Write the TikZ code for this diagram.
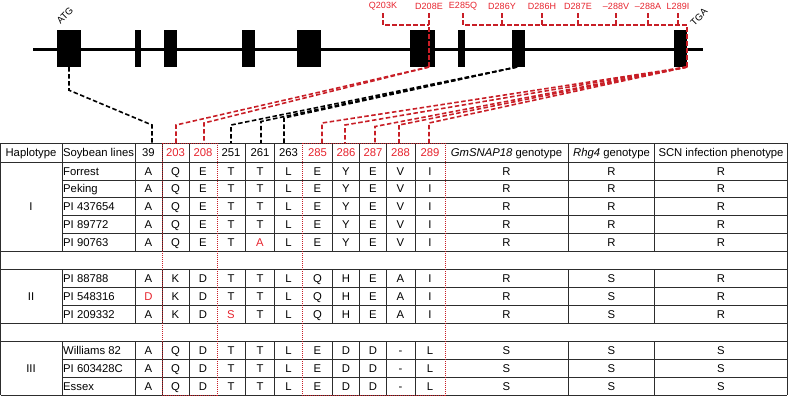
\documentclass[tikz,border=0pt]{standalone}
\usepackage{fontspec}
\setmainfont{Liberation Sans}
\usetikzlibrary{calc}
\definecolor{txtred}{RGB}{230,35,45}
\definecolor{lnred}{RGB}{200,30,38}
\definecolor{gridc}{RGB}{45,45,45}
\newcommand{\redt}[1]{\textcolor{txtred}{#1}}
\newcommand{\trow}[3]{%
  \pgfmathsetmacro{\ry}{162+17.923*(#1-1)+8.96}
  \node[cell, anchor=west] (n#1) at (63,\ry) {#2};
  \foreach \v [count=\c] in {#3} {
    \pgfmathsetmacro{\cx}{{148.5,175.5,203,231,260,288.5,317.5,346,373,400.5,430,506.5,611.5,721}[\c-1]}
    \node[cell] (d#1-\c) at (\cx,\ry) {\v};
  }%
}
\begin{document}
\begin{tikzpicture}[x=1pt,y=-1pt,
  cell/.style={inner sep=0pt, text height=8.1pt, text depth=0pt, font=\fontsize{11.3}{13}\selectfont},
  mut/.style={inner sep=0pt, text=txtred, font=\fontsize{9}{10}\selectfont},
  exon/.style={rectangle, fill=black, draw=none, inner sep=0pt, minimum height=37},
  bkdash/.style={draw=black, line width=1.6pt, dash pattern=on 4.5pt off 2.5pt},
  rddash/.style={draw=lnred, line width=1.6pt, dash pattern=on 4.5pt off 2.5pt},
  redbox/.style={draw=lnred, line width=0.8pt, dash pattern=on 1pt off 1pt},
  gridline/.style={draw=gridc, line width=0.8pt}
]
\useasboundingbox (0,0) rectangle (788,400);

% ---------- gene model ----------
\coordinate (g0) at (33,49);
\coordinate (g1) at (703,49);
\draw[line width=3pt] (g0) -- (g1);
\node[exon, minimum width=24] (e1) at (69,48.5) {};
\node[exon, minimum width=6.5] (e2) at (138,48.5) {};
\node[exon, minimum width=13] (e3) at (170.5,48.5) {};
\node[exon, minimum width=13] (e4) at (248.5,48.5) {};
\node[exon, minimum width=24] (e5) at (309,48.5) {};
\node[exon, minimum width=25] (e6) at (422.5,48.5) {};
\node[exon, minimum width=7] (e7) at (461.5,48.5) {};
\node[exon, minimum width=13] (e8) at (518.5,48.5) {};
\node[exon, minimum width=13] (e9) at (680.5,48.5) {};
\node[inner sep=0pt, rotate=45, font=\fontsize{9.5}{11}\selectfont] (atg) at (65,16) {ATG};
\node[inner sep=0pt, rotate=45, font=\fontsize{9.5}{11}\selectfont] (tga) at (699,17) {TGA};

% ---------- mutation labels ----------
\node[mut] (m1) at (383,6) {Q203K};
\node[mut] (m2) at (429,6) {D208E};
\node[mut] (m3) at (463,6) {E285Q};
\node[mut] (m4) at (502,6) {D286Y};
\node[mut] (m5) at (542,6) {D286H};
\node[mut] (m6) at (578,6) {D287E};
\node[mut] (m7) at (616,6) {–288V};
\node[mut] (m8) at (648,6) {–288A};
\node[mut] (m9) at (678,6) {L289I};
\coordinate (ytick) at (0,13);
\coordinate (ybar) at (0,25);
\coordinate (yex) at (0,67);
\coordinate (s6) at (429,67);
\coordinate (s8) at (517,67);
\coordinate (s9) at (687,67);
\draw[rddash] (m1 |- ytick) -- (m1 |- ybar) -- (m2 |- ybar);
\draw[rddash] (m2 |- ytick) -- (s6);
\draw[rddash] (m3 |- ytick) -- (m3 |- ybar) -- (s9 |- ybar) -- (s9);
\foreach \m in {m4,m5,m6,m7,m8,m9} {
  \draw[rddash] (\m |- ytick) -- (\m |- ybar);
}

% ---------- connectors ----------
\coordinate (k1) at (152,125);  \coordinate (t1) at (152,143);
\coordinate (k2) at (176,125);  \coordinate (t2) at (176,143);
\coordinate (k3) at (204,123);  \coordinate (t3) at (204,143);
\coordinate (k4) at (231,125);  \coordinate (t4) at (231,143);
\coordinate (k5) at (261,121.5);\coordinate (t5) at (261,143);
\coordinate (k6) at (284,118);  \coordinate (t6) at (284,143);
\coordinate (k7) at (322,123);  \coordinate (t7) at (322,143);
\coordinate (k8) at (345,125);  \coordinate (t8) at (345,143);
\coordinate (k9) at (375,126.5);\coordinate (t9) at (375,143);
\coordinate (k10) at (399,125); \coordinate (t10) at (399,143);
\coordinate (k11) at (429,123); \coordinate (t11) at (429,143);
\draw[bkdash] (e1.south) -- ++(0,23) -- (k1) -- (t1);
\draw[rddash] (s6) -- (k2) -- (t2);
\draw[rddash] (s6) -- (k3) -- (t3);
\foreach \i in {4,5,6} { \draw[bkdash] (s8) -- (k\i) -- (t\i); }
\foreach \i in {7,8,9,10,11} { \draw[rddash] (s9) -- (k\i) -- (t\i); }

% ---------- table grid ----------
\foreach \y in {143,162,251.62,269.54,323.31,341.23,395} {
  \draw[gridline] (0.5,\y) -- (787,\y);
}
\foreach \y in {179.92,197.85,215.77,233.69,287.46,305.38,359.15,377.08} {
  \draw[gridline] (62,\y) -- (787,\y);
}
\draw[gridline] (0.5,143) -- (0.5,395);
\draw[gridline] (787,143) -- (787,395);
\foreach \x in {62,135,162,189,245,274,332,359,386,415,568,654} {
  \draw[gridline] (\x,143) -- (\x,251.62);
  \draw[gridline] (\x,269.54) -- (\x,323.31);
  \draw[gridline] (\x,341.23) -- (\x,395);
}
\draw[redbox] (162,143) rectangle (217,395);
\draw[redbox] (302,143) rectangle (445,395);

% ---------- header ----------
\node[cell] (hh) at (31,152.5) {Haplotype};
\node[cell] (hs) at (98.5,152.5) {Soybean lines};
\node[cell] (h1) at (148.5,152.5) {39};
\node[cell, text=txtred] (h2) at (175.5,152.5) {203};
\node[cell, text=txtred] (h3) at (203,152.5) {208};
\node[cell] (h4) at (231,152.5) {251};
\node[cell] (h5) at (260,152.5) {261};
\node[cell] (h6) at (288.5,152.5) {263};
\node[cell, text=txtred] (h7) at (317.5,152.5) {285};
\node[cell, text=txtred] (h8) at (346,152.5) {286};
\node[cell, text=txtred] (h9) at (373,152.5) {287};
\node[cell, text=txtred] (h10) at (400.5,152.5) {288};
\node[cell, text=txtred] (h11) at (430,152.5) {289};
\node[cell] (hg) at (506.5,152.5) {\textit{GmSNAP18} genotype};
\node[cell] (hr) at (611.5,152.5) {\textit{Rhg4} genotype};
\node[cell] (hp) at (721,152.5) {SCN infection phenotype};

% ---------- groups ----------
\node[cell] (gI) at (31,206.8) {I};
\node[cell] (gII) at (31,296.4) {II};
\node[cell] (gIII) at (31,368.1) {III};

% ---------- rows ----------
\trow{1}{Forrest}{A,Q,E,T,T,L,E,Y,E,V,I,R,R,R}
\trow{2}{Peking}{A,Q,E,T,T,L,E,Y,E,V,I,R,R,R}
\trow{3}{PI 437654}{A,Q,E,T,T,L,E,Y,E,V,I,R,R,R}
\trow{4}{PI 89772}{A,Q,E,T,T,L,E,Y,E,V,I,R,R,R}
\trow{5}{PI 90763}{A,Q,E,T,\redt{A},L,E,Y,E,V,I,R,R,R}
\trow{7}{PI 88788}{A,K,D,T,T,L,Q,H,E,A,I,R,S,R}
\trow{8}{PI 548316}{\redt{D},K,D,T,T,L,Q,H,E,A,I,R,S,R}
\trow{9}{PI 209332}{A,K,D,\redt{S},T,L,Q,H,E,A,I,R,S,R}
\trow{11}{Williams 82}{A,Q,D,T,T,L,E,D,D,-,L,S,S,S}
\trow{12}{PI 603428C}{A,Q,D,T,T,L,E,D,D,-,L,S,S,S}
\trow{13}{Essex}{A,Q,D,T,T,L,E,D,D,-,L,S,S,S}
\end{tikzpicture}
\end{document}
